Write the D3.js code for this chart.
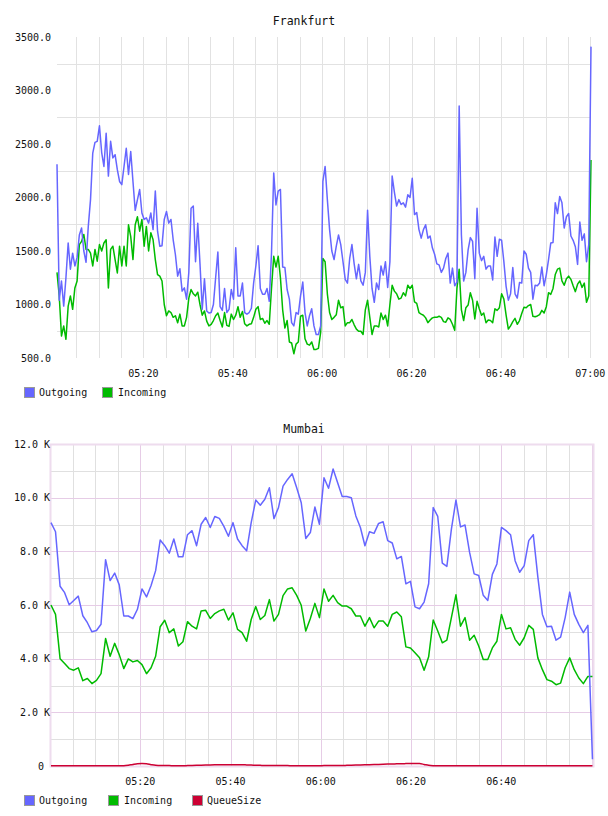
<!DOCTYPE html>
<html><head><meta charset="utf-8">
<script src="https://cdn.jsdelivr.net/npm/d3@7"></script>
<style>
body{margin:0;background:#fff}
svg{display:block}
text{font-family:"DejaVu Sans Mono",monospace;fill:#111}
</style>
</head><body><svg id="c" width="608" height="816"></svg>
<script>
// ---------- Frankfurt (30 s samples) ----------
const fraStart = "05:00:40";
const fraStepSeconds = 30;
const fraOutgoing = [
2310,1040,1220,985,1250,1575,1330,1480,1360,1440,
1650,1715,1500,1395,1730,1980,2415,2515,2525,2670,
2420,2290,2600,2200,2525,2370,2400,2260,2150,2120,
2290,2460,2215,2430,2150,1880,1980,2075,1855,1795,
1810,1760,1855,1700,2060,1685,1545,1550,1795,1870,
1760,1795,1605,1465,1265,1335,1125,1155,1050,1300,
1900,1920,1400,1760,1380,955,1240,940,920,925,
1000,1250,1490,980,945,1150,925,955,1140,1050,
1530,1080,1080,1200,925,910,925,965,1200,1360,
1550,1150,1095,1095,1150,1030,1480,2230,1930,2060,
2075,1350,1345,1140,1050,830,800,925,910,1080,
1210,925,800,895,960,800,720,720,800,2150,
2290,1980,1700,1500,1420,1545,1650,1560,1400,1235,
1200,1430,1560,1380,1240,1375,1220,1180,1300,1880,
1450,1150,1020,1200,1140,1360,1275,1400,1160,1400,
2200,2050,1920,1980,1935,1950,1910,2025,2000,2180,
1840,1860,1700,1620,1700,1745,1620,1640,1530,1470,
1380,1370,1300,1340,1430,1480,1200,1340,1175,1210,
2855,1650,1220,1300,1510,1625,1590,1240,1900,1480,
1410,1450,1330,1360,1360,1230,1630,1450,1610,1600,
1400,1170,1040,1100,1345,1100,1060,1205,1200,1500,
1470,1340,1300,1050,1180,1175,1200,1350,1175,1280,
1420,1575,1580,1950,1850,2010,1950,1715,1820,1850,
1640,1600,1540,1375,1770,1600,1660,1400,1560,3410
];
const fraIncoming = [
1300,1080,705,800,675,985,1080,955,1155,1220,
1560,1590,1655,1515,1515,1480,1360,1515,1405,1560,
1500,1575,1605,1155,1515,1545,1420,1295,1545,1360,
1545,1360,1745,1635,1420,1745,1820,1685,1795,1545,
1730,1500,1670,1605,1420,1280,1265,1220,1000,895,
940,925,880,895,830,910,800,800,880,1060,
1140,1100,1080,1115,1000,900,940,845,800,815,
850,895,920,850,790,925,805,795,910,860,
900,980,880,935,820,800,815,820,880,955,
980,860,870,825,850,815,1150,1450,1350,1450,
1250,950,780,850,650,640,540,630,650,890,
900,680,630,620,650,580,580,590,740,1430,
1400,1100,925,860,880,905,1040,970,980,800,
830,830,860,810,770,750,750,720,950,1040,
880,720,800,800,790,920,860,900,800,1000,
1180,1125,1100,1050,1060,1110,1080,1180,1150,1180,
1025,1010,925,910,900,875,830,855,875,880,
880,890,880,840,835,875,860,815,760,1150,
1330,950,850,970,995,1110,1040,865,1030,960,
900,920,830,855,850,830,960,945,970,1100,
1050,900,770,800,840,870,815,850,915,975,
970,990,1000,890,885,893,905,945,920,980,
1110,1095,1150,1280,1330,1340,1220,1180,1240,1265,
1235,1175,1120,1190,1220,1160,1200,1020,1080,2350
];
const fraYTicks = [500,1000,1500,2000,2500,3000,3500];
const fraYTickLabels = ["500.0","1000.0","1500.0","2000.0","2500.0","3000.0","3500.0"];
const fraYGrid = [750,1250,1750,2250,2750,3250];
const fraXTickLabels = ["05:20","05:40","06:00","06:20","06:40","07:00"];

// ---------- Mumbai (about 1 min samples) ----------
const mumStart = "05:00:13";
const mumStepSeconds = 60.5;
const mumOutgoing = [
9070,8730,6700,6460,6010,6170,6330,5600,5340,5000,
5050,5280,7690,6910,7190,6750,5590,5590,5490,5840,
6600,6300,6730,7280,8420,8210,7930,8460,7800,7800,
8620,8770,8210,9010,9260,8890,9300,9230,8930,8560,
9070,8460,8210,8020,9070,9910,9720,9940,10370,9220,
9630,10430,10680,10890,10370,9810,8480,8700,9650,9010,
10740,10350,11070,10560,10040,10040,10000,9320,8890,8210,
8730,8670,9040,9100,8400,8310,7720,7810,6790,6880,
5930,5860,6110,6790,9630,9300,7560,7440,8830,9910,
8910,8980,7960,7160,7100,6360,6170,7140,7530,8890,
8770,8620,7650,7220,7470,8400,8620,7040,5650,5190,
5210,4690,4800,5530,6480,5650,5280,4970,5240,250
];
const mumIncoming = [
6000,5650,4000,3820,3630,3570,3660,3180,3260,3070,
3190,3440,4750,4090,4570,4150,3630,3990,3880,3930,
3780,3440,3660,4090,5190,5430,4970,5110,4470,4630,
5380,5210,5110,5780,5800,5500,5680,5780,5840,5440,
5710,5090,4970,4650,5460,5940,5460,5610,6200,5400,
5650,6350,6600,6640,6360,5990,5030,5500,6060,5530,
6600,6140,6360,6090,5960,5960,5860,5590,5590,5210,
5530,5150,5400,5400,5210,5650,5740,5560,4440,4400,
4220,4030,3570,4070,5440,5030,4590,4690,5530,6380,
5210,5530,4690,4870,4470,3970,3970,4400,4650,5650,
5110,5150,4720,4500,4780,5240,5090,4030,3590,3220,
3160,3030,3090,3660,4030,3590,3280,3070,3340,3340
];
const mumQueueSize = [
5,5,5,5,5,5,5,5,5,5,
5,5,5,5,5,5,10,30,60,85,
90,80,50,25,15,15,15,10,10,10,
15,20,25,30,35,40,45,50,50,50,
50,45,45,40,35,30,25,20,20,20,
20,15,15,10,10,10,10,10,10,10,
15,15,15,20,20,25,30,35,40,45,
50,55,60,65,70,75,80,85,90,95,
95,90,60,25,10,5,5,5,5,5,
5,5,5,5,5,5,5,5,5,5,
5,5,5,5,5,5,5,5,5,5,
5,5,5,5,5,5,5,5,5,5
];
const mumYTicks = [0,2000,4000,6000,8000,10000,12000];
const mumYTickLabels = ["0 ","2.0 K","4.0 K","6.0 K","8.0 K","10.0 K","12.0 K"];
const mumXTickLabels = ["05:20","05:40","06:00","06:20","06:40"];

const seriesNames = ["Outgoing","Incoming","QueueSize"];
const seriesColors = ["#6666ff","#00bb00","#cc0033"];

// ---------- helpers ----------
const parseT = d3.timeParse("%H:%M:%S");
const parseHM = d3.timeParse("%H:%M");
const svg = d3.select("#c");

function times(start, stepSec, n){
  const t0 = parseT(start);
  return d3.range(n).map(i => new Date(t0.getTime() + i*stepSec*1000));
}

function legend(y, names, xs, tx){
  names.forEach((n,i)=>{
    svg.append("rect").attr("x",xs[i]+0.5).attr("y",y+0.5).attr("width",10).attr("height",10)
      .attr("fill",seriesColors[i]).attr("stroke","#999").attr("stroke-width",1);
    svg.append("text").attr("x",tx[i]).attr("y",y+5).attr("dy","0.35em")
      .attr("font-size",10).text(n);
  });
}

// ---------- Frankfurt ----------
(function(){
  const L=57, R=591, T=37, B=358;
  const tt = times(fraStart, fraStepSeconds, fraOutgoing.length);
  const x = d3.scaleTime().domain([tt[0], tt[tt.length-1]]).range([L,R]);
  const y = d3.scaleLinear().domain([500,3500]).range([B,T]);
  const g = svg.append("g");
  // vertical grid every 5 minutes
  const vTicks = x.ticks(d3.timeMinute.every(5));
  g.selectAll(".vg").data(vTicks).enter().append("line")
    .attr("x1",d=>Math.round(x(d))+0.5).attr("x2",d=>Math.round(x(d))+0.5)
    .attr("y1",T).attr("y2",B).attr("stroke","#e2e2e2").attr("stroke-width",1);
  g.selectAll(".hg").data(fraYGrid).enter().append("line")
    .attr("x1",L).attr("x2",R).attr("y1",d=>Math.round(y(d))+0.5).attr("y2",d=>Math.round(y(d))+0.5)
    .attr("stroke","#e2e2e2").attr("stroke-width",1);
  // y labels
  g.selectAll(".yl").data(fraYTicks).enter().append("text")
    .attr("x",51).attr("y",d=>y(d)).attr("dy","0.35em").attr("text-anchor","end")
    .attr("font-size",10).text((d,i)=>fraYTickLabels[i]);
  // x labels
  g.selectAll(".xl").data(fraXTickLabels).enter().append("text")
    .attr("x",d=>{const p=parseHM(d); return x(p);}).attr("y",373.5).attr("dy","0.35em")
    .attr("text-anchor","middle").attr("font-size",10).text(d=>d);
  // lines
  const line = d3.line().x((d,i)=>x(tt[i])).y(d=>y(d));
  g.append("path").datum(fraIncoming).attr("d",line).attr("fill","none")
    .attr("stroke",seriesColors[1]).attr("stroke-width",1.5).attr("stroke-linejoin","round");
  g.append("path").datum(fraOutgoing).attr("d",line).attr("fill","none")
    .attr("stroke",seriesColors[0]).attr("stroke-width",1.5).attr("stroke-linejoin","round");
  svg.append("text").attr("x",304).attr("y",25).attr("text-anchor","middle")
    .attr("font-size",11.5).text("Frankfurt");
  legend(387, seriesNames.slice(0,2), [24,102], [39,118]);
})();

// ---------- Mumbai ----------
(function(){
  const L=50, R=594, T=444, B=766;
  const tt = times(mumStart, mumStepSeconds, mumOutgoing.length);
  const x = d3.scaleTime().domain([parseT("05:00:00"), parseT("07:00:33")]).range([L,R]);
  const y = d3.scaleLinear().domain([0,12000]).range([B,T]);
  const g = svg.append("g");
  const vTicks = x.ticks(d3.timeMinute.every(5)).filter(d=>x(d)>L+1 && x(d)<R-1);
  const pink = "#e6cce6", gray = "#e0e0e0";
  g.selectAll(".vg").data(vTicks).enter().append("line")
    .attr("x1",d=>Math.round(x(d))+0.5).attr("x2",d=>Math.round(x(d))+0.5)
    .attr("y1",T).attr("y2",B).attr("stroke",d=>d.getMinutes()%20===0?pink:gray).attr("stroke-width",1);
  const hTicks = d3.range(1000,12000,1000);
  g.selectAll(".hg").data(hTicks).enter().append("line")
    .attr("x1",L).attr("x2",R).attr("y1",d=>Math.round(y(d))+0.5).attr("y2",d=>Math.round(y(d))+0.5)
    .attr("stroke",d=>d%2000===0?pink:gray).attr("stroke-width",1);
  g.append("rect").attr("x",L+0.5).attr("y",T+0.5).attr("width",R-L-1).attr("height",B-T)
    .attr("fill","none").attr("stroke","#eedcee").attr("stroke-width",2);
  g.selectAll(".yl").data(mumYTicks).enter().append("text")
    .attr("x",50).attr("y",d=>y(d)).attr("dy","0.35em").attr("text-anchor","end")
    .attr("font-size",10).style("white-space","pre").text((d,i)=>mumYTickLabels[i]);
  g.selectAll(".xl").data(mumXTickLabels).enter().append("text")
    .attr("x",d=>x(parseHM(d))).attr("y",781.5).attr("dy","0.35em")
    .attr("text-anchor","middle").attr("font-size",10).text(d=>d);
  const line = d3.line().x((d,i)=>x(tt[i])).y(d=>y(d));
  g.append("path").datum(mumQueueSize).attr("d",line.curve(d3.curveMonotoneX)).attr("fill","none")
    .attr("stroke",seriesColors[2]).attr("stroke-width",1.5);
  const line2 = d3.line().x((d,i)=>x(tt[i])).y(d=>y(d));
  g.append("path").datum(mumIncoming).attr("d",line2).attr("fill","none")
    .attr("stroke",seriesColors[1]).attr("stroke-width",1.5).attr("stroke-linejoin","round");
  g.append("path").datum(mumOutgoing).attr("d",line2).attr("fill","none")
    .attr("stroke",seriesColors[0]).attr("stroke-width",1.5).attr("stroke-linejoin","round");
  svg.append("text").attr("x",304).attr("y",433).attr("text-anchor","middle")
    .attr("font-size",11.5).text("Mumbai");
  legend(795, seriesNames, [24,108,192], [39,124,207]);
})();
</script>
</body></html>
